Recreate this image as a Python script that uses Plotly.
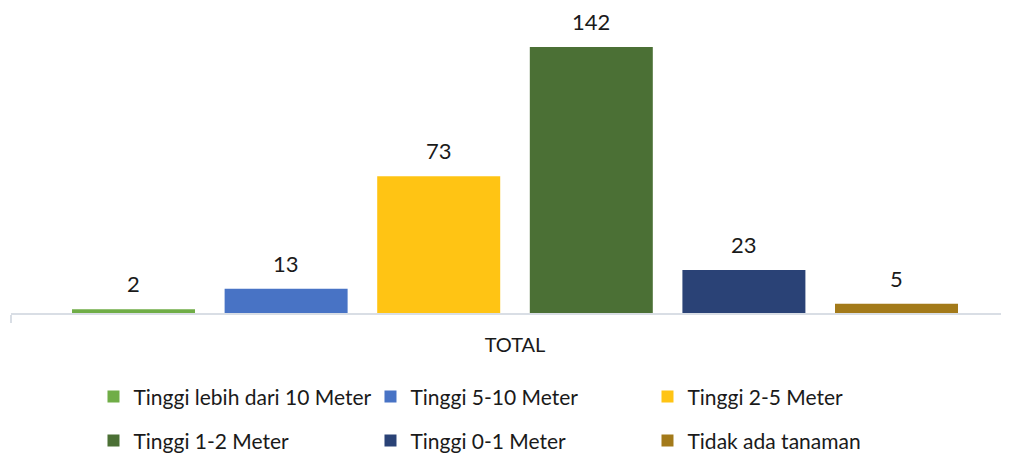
import plotly.graph_objects as go

category = ["TOTAL"]
series_names = [
    "Tinggi lebih dari 10 Meter",
    "Tinggi 5-10 Meter",
    "Tinggi 2-5 Meter",
    "Tinggi 1-2 Meter",
    "Tinggi 0-1 Meter",
    "Tidak ada tanaman",
]
series_values = [2, 13, 73, 142, 23, 5]
series_colors = ["#70AD47", "#4873C5", "#FFC414", "#4B7035", "#2A4276", "#A37A1A"]

FONT = "Lato, 'Open Sans', sans-serif"
TEXT_COLOR = "#1a1a1a"

WIDTH, HEIGHT = 1009, 455
MARGIN_L, MARGIN_R = 3, 0
X_RANGE = [-0.5, 0.498]
BARGAP = 0.0917

fig = go.Figure()
for i, (name, val, color) in enumerate(zip(series_names, series_values, series_colors)):
    fig.add_trace(
        go.Bar(
            x=category,
            y=[val],
            name=name,
            legend="legend" if i < 3 else "legend2",
            marker=dict(color=color, line=dict(width=0)),
        )
    )

# value labels sit above each bar, a little higher than plotly's own outside text
px_per_unit = (WIDTH - MARGIN_L - MARGIN_R) / (X_RANGE[1] - X_RANGE[0])
slot = (1 - BARGAP) / len(series_values) * px_per_unit
for i, val in enumerate(series_values):
    fig.add_annotation(
        x=category[0],
        y=val,
        text=str(val),
        showarrow=False,
        xanchor="center",
        yanchor="bottom",
        xshift=(i - (len(series_values) - 1) / 2) * slot,
        yshift=10,
        font=dict(size=22, color=TEXT_COLOR, family=FONT),
    )

legend_style = dict(
    orientation="h",
    x=0.082,
    xanchor="left",
    yanchor="middle",
    entrywidth=232,
    entrywidthmode="pixels",
    itemsizing="constant",
    bgcolor="rgba(0,0,0,0)",
    font=dict(size=21, family=FONT, color=TEXT_COLOR),
)

# the page body adds 8px around the figure, so margins are offset by that
fig.update_layout(
    width=WIDTH,
    height=HEIGHT,
    paper_bgcolor="white",
    plot_bgcolor="white",
    margin=dict(l=MARGIN_L, r=MARGIN_R, t=2, b=150, autoexpand=False),
    barmode="group",
    bargap=BARGAP,
    bargroupgap=0.194,
    font=dict(family=FONT, size=17, color=TEXT_COLOR),
    showlegend=True,
    legend=dict(legend_style, y=-0.277),
    legend2=dict(legend_style, y=-0.422),
)

fig.update_xaxes(
    range=X_RANGE,
    showline=True,
    linecolor="#D9DEE5",
    linewidth=2,
    ticks="outside",
    tickson="boundaries",
    ticklen=8,
    tickcolor="#D9DEE5",
    tickwidth=2,
    ticklabelstandoff=13,
    tickfont=dict(size=20, family=FONT, color=TEXT_COLOR),
    showgrid=False,
)
fig.update_yaxes(
    range=[0, 161.8],
    visible=False,
    showgrid=False,
)

fig.write_html("out.html")
